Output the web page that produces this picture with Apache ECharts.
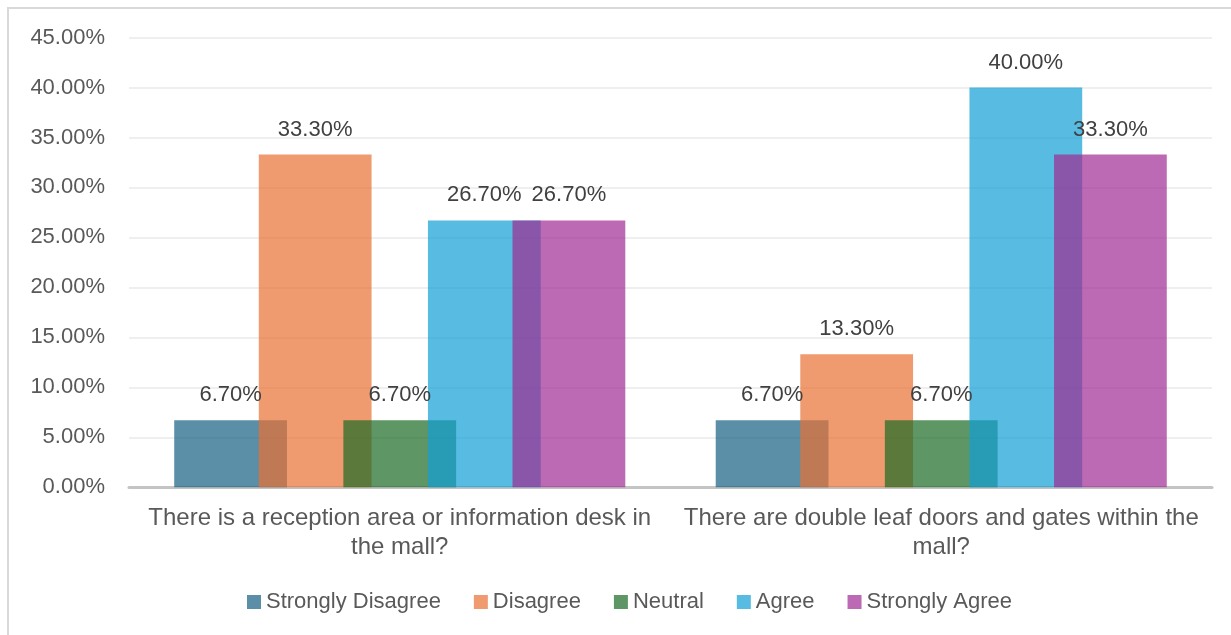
<!DOCTYPE html>
<html>
<head>
<meta charset="utf-8">
<title>Survey responses</title>
<script src="https://cdn.jsdelivr.net/npm/echarts@6/dist/echarts.min.js"></script>
<style>
  html, body { margin: 0; padding: 0; background: #ffffff; }
  #chart { width: 1231px; height: 635px; }
</style>
</head>
<body>
<div id="chart"></div>
<script>
// Survey statements (x axis), wrapped onto two lines
const categories = [
  'There is a reception area or information desk in\nthe mall?',
  'There are double leaf doors and gates within the\nmall?'
];

// Share of respondents per answer, in percent
const stronglyDisagree = [6.7, 6.7];
const disagree = [33.3, 13.3];
const neutral = [6.7, 6.7];
const agree = [26.7, 40.0];
const stronglyAgree = [26.7, 33.3];

// Value axis ticks (percent)
const yMin = 0;
const yMax = 45;
const yStep = 5;

const seriesDefs = [
  { name: 'Strongly Disagree', data: stronglyDisagree, color: 'rgba(21,96,130,0.7)' },
  { name: 'Disagree',          data: disagree,         color: 'rgba(233,113,50,0.7)' },
  { name: 'Neutral',           data: neutral,          color: 'rgba(25,107,36,0.7)' },
  { name: 'Agree',             data: agree,            color: 'rgba(15,158,213,0.7)' },
  { name: 'Strongly Agree',    data: stronglyAgree,    color: 'rgba(160,43,147,0.7)' }
];

const FONT = '"Liberation Sans", Arial, sans-serif';
const fmtPct = v => Number(v).toFixed(2) + '%';

const chart = echarts.init(document.getElementById('chart'), null, { renderer: 'canvas' });

chart.setOption({
  animation: false,
  backgroundColor: '#ffffff',
  textStyle: { fontFamily: FONT },
  graphic: [{
    type: 'rect',
    silent: true,
    shape: { x: 8, y: 8, width: 1400, height: 800 },
    style: { fill: 'none', stroke: '#d9d9d9', lineWidth: 2 },
    z: -10
  }],
  grid: { left: 129, right: 19, top: 37.5, bottom: 147.7 },
  legend: {
    left: 242,
    top: 586,
    icon: 'rect',
    itemWidth: 14,
    itemHeight: 14,
    itemGap: 33,
    textStyle: { fontFamily: FONT, fontSize: 22, color: '#595959', padding: [0, 0, 0, 0] },
    data: seriesDefs.map(s => s.name)
  },
  xAxis: {
    type: 'category',
    data: categories,
    axisLine: { show: true, lineStyle: { color: '#c4c4c4', width: 3 } },
    axisTick: { show: false },
    axisLabel: {
      interval: 0,
      margin: 17,
      fontFamily: FONT,
      fontSize: 24,
      lineHeight: 29,
      color: '#595959',
      align: 'center'
    },
    splitLine: { show: false }
  },
  yAxis: {
    type: 'value',
    min: yMin,
    max: yMax,
    interval: yStep,
    axisLine: { show: false },
    axisTick: { show: false },
    axisLabel: {
      margin: 24,
      fontFamily: FONT,
      fontSize: 22,
      color: '#595959',
      formatter: fmtPct
    },
    splitLine: { show: true, lineStyle: { color: '#efefef', width: 2 } }
  },
  series: seriesDefs.map(s => ({
    name: s.name,
    type: 'bar',
    data: s.data,
    barGap: '-25%',
    barCategoryGap: '16.7%',
    itemStyle: { color: s.color },
    label: {
      show: true,
      position: 'top',
      distance: 14,
      fontFamily: FONT,
      fontSize: 22,
      color: '#404040',
      formatter: p => fmtPct(p.value)
    }
  }))
});
</script>
</body>
</html>
